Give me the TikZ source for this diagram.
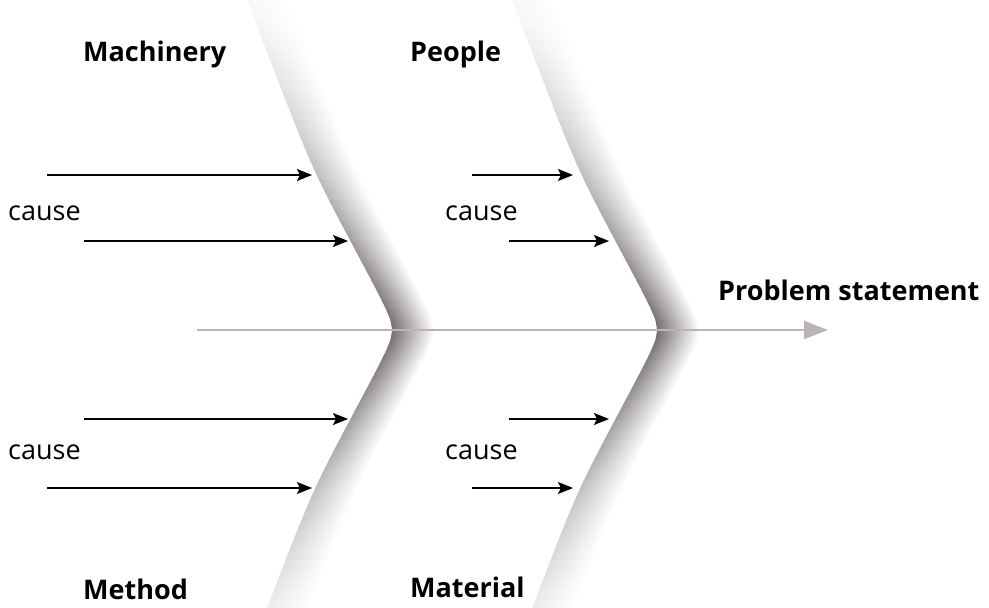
\documentclass[tikz,border=0pt]{standalone}
\usepackage{fontspec}
\setmainfont{Open Sans}
\usetikzlibrary{arrows.meta}

\definecolor{spinegray}{RGB}{188,180,180}
\definecolor{bonegray}{RGB}{24,14,14}

% x position of a bone edge, D = distance from the spine in tens of px
\pgfmathdeclarefunction{bonex}{1}{%
  \pgfmathparse{399 - 10*sqrt(0.3025*#1*#1 + 0.52)
    + 0.85*(sqrt((abs(#1)-15.7)^2 + 16) + abs(#1) - 15.7)}}

\tikzset{
  category/.style={font=\fontsize{27}{32}\selectfont\bfseries, anchor=base west, inner sep=0pt},
  causetext/.style={font=\fontsize{27}{32}\selectfont, anchor=base west, inner sep=0pt},
  causearrow/.style={line width=1.4pt, -{Stealth[length=15pt, width=12pt, inset=3pt]}},
  spine/.style={line width=2pt, spinegray, -{Triangle[length=24pt, width=18pt]}},
}

\begin{document}
\begin{tikzpicture}[x=1pt, y=-1pt]
    \useasboundingbox (0,0) rectangle (989,608);

    % shaded bones
    \foreach \shift in {0,265}{
        \foreach \D in {-33,...,27}{
            \pgfmathsetmacro\xa{bonex(\D)+\shift}
            \pgfmathsetmacro\xb{bonex(\D+1)+\shift}
            \pgfmathsetmacro\ya{330+10*\D}
            \pgfmathsetmacro\sl{-(\xb-\xa)/10}
            \pgfmathsetmacro\k{60*max(0.06, (1-abs(\D+0.5)/36)^1.4)}
            \pgfmathsetmacro\km{\k/2.6}
            \begin{scope}[transform canvas={shift={(\xa,\ya)}, xslant=\sl}]
                \shade[left color=bonegray!\k, middle color=bonegray!\km, right color=white]
                    (0,0) rectangle (42,10.6);
            \end{scope}
        }
    }

    % spine
    \coordinate (tail) at (197,330);
    \coordinate (head) at (828,330);
    \draw[spine] (tail) -- (head);

    % causes
    \foreach \name/\xa/\xb/\y in {ma/47/312/175, mb/84/348/241, mc/84/348/419, md/47/312/488,
        pa/472/573/175, pb/509/609/241, pc/509/609/419, pd/472/573/488}{
        \coordinate (\name s) at (\xa,\y);
        \coordinate (\name e) at (\xb,\y);
        \draw[causearrow] (\name s) -- (\name e);
    }

    \node[category] (machinery) at (83,61) {Machinery};
    \node[category] (people) at (410,61) {People};
    \node[category] (method) at (83,599) {Method};
    \node[category] (material) at (410,597) {Material};
    \node[category] (problem) at (718,300) {Problem statement};

    \node[causetext] (causea) at (8,220) {cause};
    \node[causetext] (causeb) at (445,220) {cause};
    \node[causetext] (causec) at (8,459) {cause};
    \node[causetext] (caused) at (445,459) {cause};
\end{tikzpicture}
\end{document}
